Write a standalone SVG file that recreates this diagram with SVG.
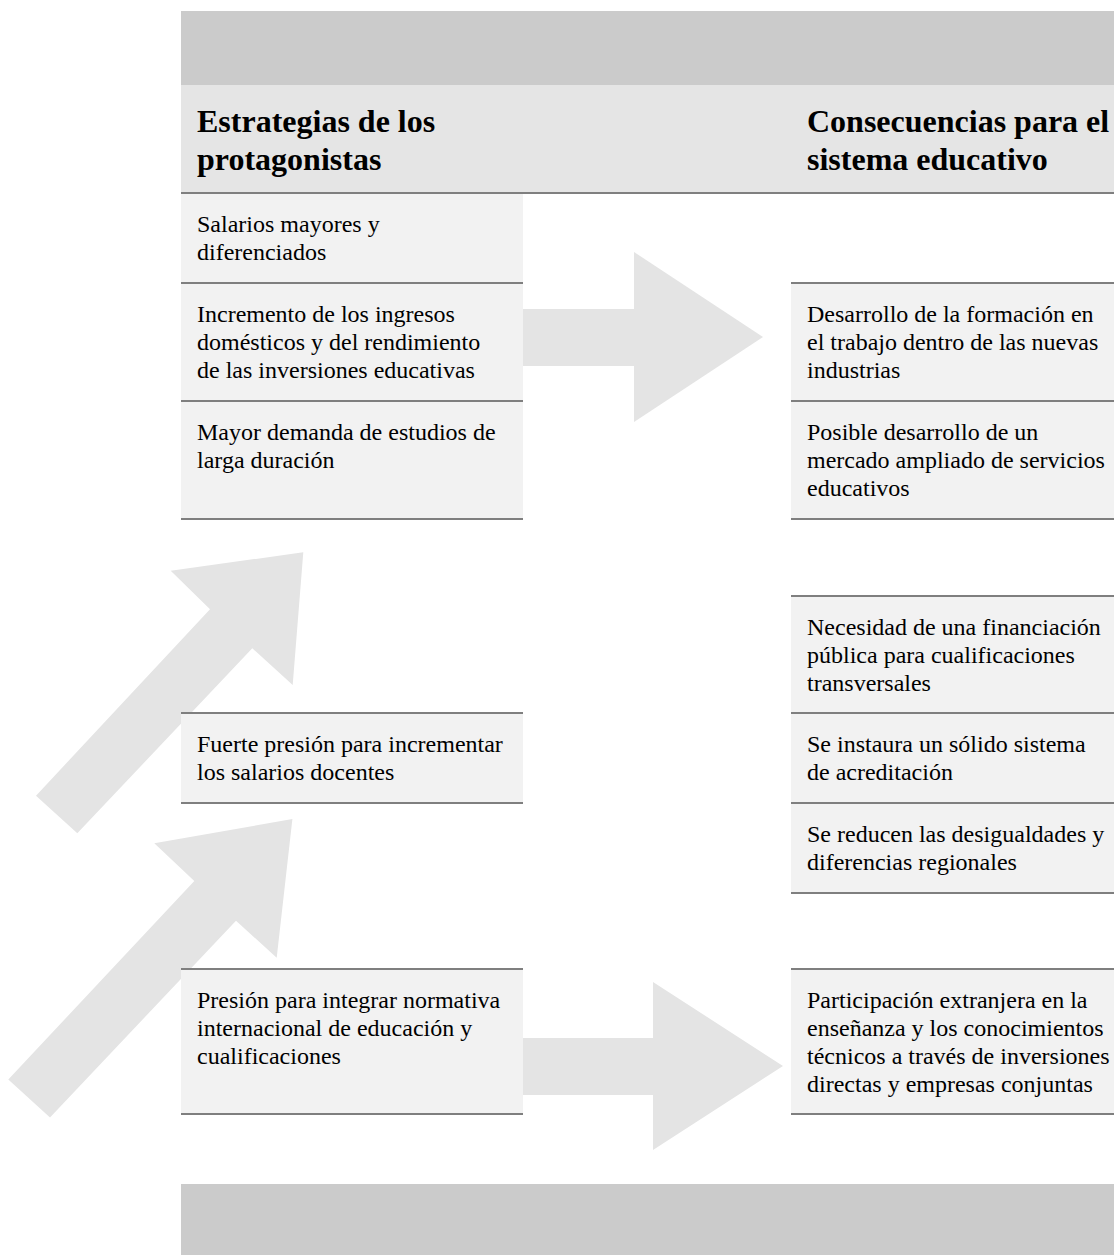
<svg xmlns="http://www.w3.org/2000/svg" width="1114" height="1255" viewBox="0 0 1114 1255">
  <style>
    .bar { fill: #cbcbcb; }
    .hdr { fill: #e5e5e5; }
    .box { fill: #f2f2f2; }
    .sep { stroke: #7f7f7f; stroke-width: 2; fill: none; }
    .arrow { fill: #e4e4e4; }
    .t { font-family: "Liberation Serif", "Times New Roman", serif; font-size: 24px; fill: #000; }
    .h { font-family: "Liberation Serif", "Times New Roman", serif; font-size: 32px; font-weight: bold; fill: #000; }
  </style>
  <rect width="1114" height="1255" fill="#ffffff"/>

  <g id="connectors">
    <polygon class="arrow" points="515,309 634,309 634,252 763,337 634,422 634,366 515,366"/>
    <polygon class="arrow" points="515,1038 653,1038 653,982 783,1066 653,1150 653,1095 515,1095"/>
    <polygon class="arrow" points="36,795.7 210,609.3 170.7,570.7 303.3,552.3 292.7,685 252.3,648.3 77.3,833.3"/>
    <polygon class="arrow" points="8.3,1079.5 194.3,881 154.3,843.3 292.4,819 276.7,957.7 236,920.7 50,1117.5"/>
  </g>

  <g id="top-bar"><rect class="bar" x="181" y="11" width="933" height="74"/></g>
  <g id="header">
    <rect class="hdr" x="181" y="85" width="933" height="108"/>
    <line class="sep" x1="181" y1="193" x2="1114" y2="193"/>
    <text class="h" x="197" y="132">Estrategias de los</text>
    <text class="h" x="197" y="170">protagonistas</text>
    <text class="h" x="807" y="132">Consecuencias para el</text>
    <text class="h" x="807" y="170">sistema educativo</text>
  </g>

  <g id="l1">
    <rect class="box" x="181" y="194" width="342" height="89"/>
    <line class="sep" x1="181" y1="283" x2="523" y2="283"/>
    <text class="t" x="197" y="232">Salarios mayores y</text>
    <text class="t" x="197" y="260">diferenciados</text>
  </g>
  <g id="l2">
    <rect class="box" x="181" y="284" width="342" height="117"/>
    <line class="sep" x1="181" y1="401" x2="523" y2="401"/>
    <text class="t" x="197" y="322">Incremento de los ingresos</text>
    <text class="t" x="197" y="350">domésticos y del rendimiento</text>
    <text class="t" x="197" y="378">de las inversiones educativas</text>
  </g>
  <g id="l3">
    <rect class="box" x="181" y="402" width="342" height="117"/>
    <line class="sep" x1="181" y1="519" x2="523" y2="519"/>
    <text class="t" x="197" y="440">Mayor demanda de estudios de</text>
    <text class="t" x="197" y="468">larga duración</text>
  </g>
  <g id="l4">
    <rect class="box" x="181" y="713" width="342" height="90"/>
    <line class="sep" x1="181" y1="713" x2="523" y2="713"/>
    <line class="sep" x1="181" y1="803" x2="523" y2="803"/>
    <text class="t" x="197" y="752">Fuerte presión para incrementar</text>
    <text class="t" x="197" y="780">los salarios docentes</text>
  </g>
  <g id="l5">
    <rect class="box" x="181" y="969" width="342" height="145"/>
    <line class="sep" x1="181" y1="969" x2="523" y2="969"/>
    <line class="sep" x1="181" y1="1114" x2="523" y2="1114"/>
    <text class="t" x="197" y="1008">Presión para integrar normativa</text>
    <text class="t" x="197" y="1036">internacional de educación y</text>
    <text class="t" x="197" y="1064">cualificaciones</text>
  </g>

  <g id="r1">
    <rect class="box" x="791" y="283" width="323" height="118"/>
    <line class="sep" x1="791" y1="283" x2="1114" y2="283"/>
    <line class="sep" x1="791" y1="401" x2="1114" y2="401"/>
    <text class="t" x="807" y="322">Desarrollo de la formación en</text>
    <text class="t" x="807" y="350">el trabajo dentro de las nuevas</text>
    <text class="t" x="807" y="378">industrias</text>
  </g>
  <g id="r2">
    <rect class="box" x="791" y="402" width="323" height="117"/>
    <line class="sep" x1="791" y1="519" x2="1114" y2="519"/>
    <text class="t" x="807" y="440">Posible desarrollo de un</text>
    <text class="t" x="807" y="468">mercado ampliado de servicios</text>
    <text class="t" x="807" y="496">educativos</text>
  </g>
  <g id="r3">
    <rect class="box" x="791" y="596" width="323" height="117"/>
    <line class="sep" x1="791" y1="596" x2="1114" y2="596"/>
    <line class="sep" x1="791" y1="713" x2="1114" y2="713"/>
    <text class="t" x="807" y="635">Necesidad de una financiación</text>
    <text class="t" x="807" y="663">pública para cualificaciones</text>
    <text class="t" x="807" y="691">transversales</text>
  </g>
  <g id="r4">
    <rect class="box" x="791" y="714" width="323" height="89"/>
    <line class="sep" x1="791" y1="803" x2="1114" y2="803"/>
    <text class="t" x="807" y="752">Se instaura un sólido sistema</text>
    <text class="t" x="807" y="780">de acreditación</text>
  </g>
  <g id="r5">
    <rect class="box" x="791" y="804" width="323" height="89"/>
    <line class="sep" x1="791" y1="893" x2="1114" y2="893"/>
    <text class="t" x="807" y="842">Se reducen las desigualdades y</text>
    <text class="t" x="807" y="870">diferencias regionales</text>
  </g>
  <g id="r6">
    <rect class="box" x="791" y="969" width="323" height="145"/>
    <line class="sep" x1="791" y1="969" x2="1114" y2="969"/>
    <line class="sep" x1="791" y1="1114" x2="1114" y2="1114"/>
    <text class="t" x="807" y="1008">Participación extranjera en la</text>
    <text class="t" x="807" y="1036">enseñanza y los conocimientos</text>
    <text class="t" x="807" y="1064">técnicos a través de inversiones</text>
    <text class="t" x="807" y="1092">directas y empresas conjuntas</text>
  </g>

  <g id="bottom-bar"><rect class="bar" x="181" y="1184" width="933" height="71"/></g>
</svg>
